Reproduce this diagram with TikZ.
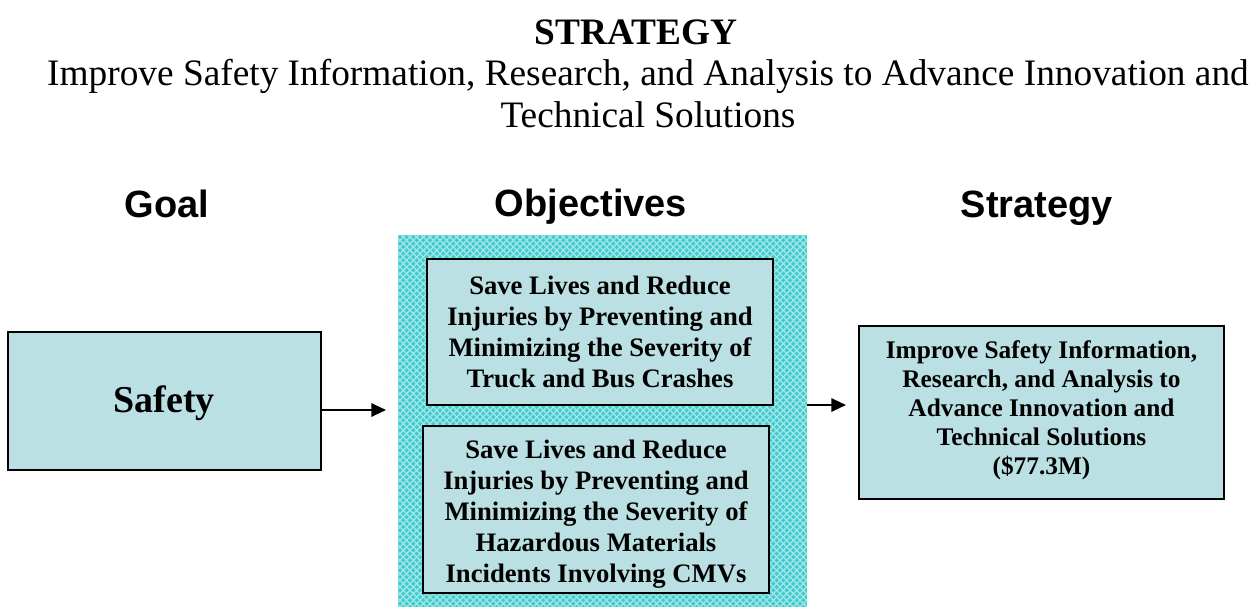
\documentclass[tikz,border=0pt]{standalone}
\usepackage{fontspec}
\setmainfont{Liberation Serif}
\setsansfont{Liberation Sans}
\usetikzlibrary{patterns,arrows.meta}
\definecolor{boxfill}{RGB}{187,224,227}
\definecolor{turq}{RGB}{66,202,204}
\definecolor{turqlight}{RGB}{160,232,234}
\pgfdeclarepatternformonly{lattice}{\pgfqpoint{-1pt}{-1pt}}{\pgfqpoint{6pt}{6pt}}{\pgfqpoint{5pt}{5pt}}{
  \pgfsetlinewidth{0.9pt}
  \pgfpathmoveto{\pgfqpoint{0pt}{0pt}}\pgfpathlineto{\pgfqpoint{5pt}{5pt}}
  \pgfpathmoveto{\pgfqpoint{0pt}{5pt}}\pgfpathlineto{\pgfqpoint{5pt}{0pt}}
  \pgfusepath{stroke}
}
\tikzset{
  box/.style={draw=black, line width=1.6pt, fill=boxfill, inner sep=0pt},
  heading/.style={font=\sffamily\bfseries\fontsize{28.5}{34}\selectfont},
  innertext/.style={align=center, font=\bfseries\fontsize{20}{23.25}\selectfont},
  strattext/.style={align=center, font=\bfseries\fontsize{19}{21.75}\selectfont},
  conn/.style={-{Triangle[length=11pt,width=10pt]}, line width=1.5pt},
}
\begin{document}
\begin{tikzpicture}[x=0.75pt,y=-0.75pt]
\useasboundingbox (0,0) rectangle (1254,607);
% titles
\node[font=\bfseries\fontsize{28}{32}\selectfont] (t1) at (636,32) {STRATEGY};
\node[font=\fontsize{28}{31.5}\selectfont, align=center] (t2) at (648,94) {Improve Safety Information, Research, and Analysis to Advance Innovation and\\Technical Solutions};
% headings
\node[heading] (hg) at (167,204) {Goal};
\node[heading] (ho) at (591,207) {Objectives};
\node[heading] (hs) at (1037,208) {Strategy};
% safety box
\node[box, minimum width=313*0.75pt, minimum height=138*0.75pt] (safety) at (164.5,401) {};
\node[font=\bfseries\fontsize{28.5}{32}\selectfont] at (164,403) {Safety};
% outer patterned box
\fill[turq] (398,235) rectangle (807,607);
\fill[pattern=lattice, pattern color=turqlight] (398,235) rectangle (807,607);
\coordinate (objL) at (398,410);
\coordinate (objR) at (807,405);
% inner boxes
\node[box, minimum width=346*0.75pt, minimum height=146*0.75pt] (o1) at (600,332) {};
\node[innertext] at (600,331.5) {Save Lives and Reduce\\Injuries by Preventing and\\Minimizing the Severity of\\Truck and Bus Crashes};
\node[box, minimum width=346*0.75pt, minimum height=167*0.75pt] (o2) at (596,509.5) {};
\node[innertext] at (596,514) {Save Lives and Reduce\\Injuries by Preventing and\\Minimizing the Severity of\\Hazardous Materials\\Incidents Involving CMVs};
% strategy box
\node[box, minimum width=365*0.75pt, minimum height=173*0.75pt] (strat) at (1041.5,412.5) {};
\node[strattext] at (1041.5,410) {Improve Safety Information,\\Research, and Analysis to\\Advance Innovation and\\Technical Solutions\\(\$77.3M)};
% arrows
\coordinate (a1e) at (386,410);
\coordinate (a2e) at (846,405);
\draw[conn] (safety.east |- a1e) -- (a1e);
\draw[conn] (objR) -- (a2e);
\end{tikzpicture}
\end{document}
